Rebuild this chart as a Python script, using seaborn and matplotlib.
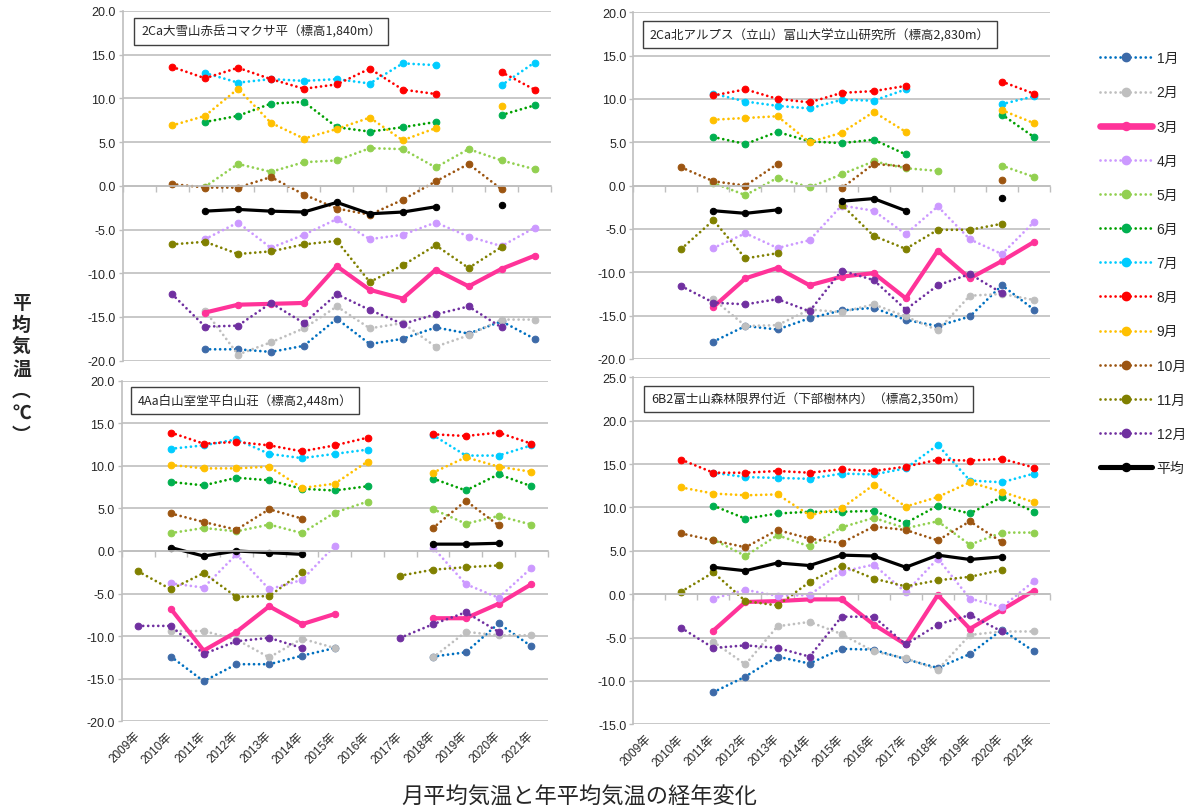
import matplotlib
matplotlib.use("Agg")
import numpy as np
import pandas as pd
import seaborn as sns
import matplotlib.pyplot as plt
from matplotlib.lines import Line2D
from matplotlib.ticker import FormatStrFormatter

N = None

# 年 (カテゴリ)
years = [2009, 2010, 2011, 2012, 2013, 2014, 2015, 2016, 2017, 2018, 2019, 2020, 2021]
year_labels = ["2009年", "2010年", "2011年", "2012年", "2013年", "2014年", "2015年",
               "2016年", "2017年", "2018年", "2019年", "2020年", "2021年"]
months = ["1月", "2月", "3月", "4月", "5月", "6月", "7月", "8月", "9月", "10月", "11月", "12月", "平均"]

# 1. 2Ca 大雪山赤岳コマクサ平
taisetsu = {
    "1月": [N, N, -18.7, -18.7, -19.0, -18.3, -15.2, -18.1, -17.5, -16.2, -16.9, -15.5, -17.5],
    "2月": [N, N, -14.3, -19.3, -17.9, -16.3, -13.8, -16.3, -15.7, -18.4, -17.1, -15.3, -15.3],
    "3月": [N, N, -14.5, -13.6, -13.5, -13.4, -9.2, -11.9, -12.9, -9.6, -11.5, -9.5, -8.0],
    "4月": [N, N, -6.1, -4.2, -7.1, -5.6, -3.8, -6.1, -5.6, -4.2, -5.8, -6.9, -4.8],
    "5月": [N, N, -0.1, 2.5, 1.6, 2.7, 2.9, 4.3, 4.2, 2.1, 4.2, 2.9, 1.9],
    "6月": [N, N, 7.3, 8.0, 9.4, 9.6, 6.7, 6.2, 6.7, 7.3, N, 8.1, 9.2],
    "7月": [N, N, 12.9, 11.8, 12.2, 12.0, 12.2, 11.7, 14.0, 13.8, N, 11.5, 14.1],
    "8月": [N, 13.6, 12.3, 13.5, 12.2, 11.1, 11.6, 13.4, 11.0, 10.5, N, 13.0, 11.0],
    "9月": [N, 6.9, 8.0, 11.1, 7.2, 5.4, 6.5, 7.8, 5.2, 6.6, N, 9.1, N],
    "10月": [N, 0.2, -0.2, -0.2, 1.0, -1.0, -2.6, -3.3, -1.6, 0.5, 2.5, -0.4, N],
    "11月": [N, -6.7, -6.4, -7.8, -7.5, -6.7, -6.3, -11.0, -9.1, -6.8, -9.4, -7.0, N],
    "12月": [N, -12.4, -16.1, -16.0, -13.4, -15.7, -12.4, -14.2, -15.8, -14.7, -13.8, -16.2, N],
    "平均": [N, N, -2.9, -2.7, -2.9, -3.0, -1.9, -3.2, -3.0, -2.4, N, -2.2, N],
}

# 2. 2Ca 北アルプス(立山)
tateyama = {
    "1月": [N, N, -18.0, -16.2, -16.6, -15.3, -14.4, -14.1, -15.5, -16.2, -15.1, -11.5, -14.3],
    "2月": [N, N, -13.1, -16.2, -16.1, -14.3, -14.6, -13.7, -15.1, -16.7, -12.7, -12.5, -13.2],
    "3月": [N, N, -14.0, -10.7, -9.5, -11.5, -10.5, -10.1, -13.0, -7.5, -10.7, -8.7, -6.5],
    "4月": [N, N, -7.2, -5.5, -7.2, -6.3, -2.3, -2.9, -5.6, -2.4, -6.2, -7.9, -4.2],
    "5月": [N, N, 0.3, -1.1, 0.9, -0.2, 1.3, 2.8, 2.0, 1.7, N, 2.3, 1.0],
    "6月": [N, N, 5.6, 4.8, 6.2, 5.1, 4.9, 5.3, 3.6, N, N, 8.2, 5.6],
    "7月": [N, N, 10.6, 9.7, 9.2, 8.9, 9.9, 9.8, 11.1, N, N, 9.4, 10.3],
    "8月": [N, N, 10.4, 11.1, 10.0, 9.6, 10.7, 10.9, 11.5, N, N, 12.0, 10.6],
    "9月": [N, N, 7.6, 7.8, 8.0, 5.0, 6.1, 8.5, 6.2, N, N, 8.7, 7.2],
    "10月": [N, 2.1, 0.5, 0.0, 2.5, N, -0.3, 2.5, 2.2, N, N, 0.7, N],
    "11月": [N, -7.3, -4.0, -8.4, -7.8, N, -2.2, -5.8, -7.3, -5.1, -5.1, -4.4, N],
    "12月": [N, -11.6, -13.5, -13.7, -13.1, -14.5, -9.8, -10.9, -14.3, -11.5, -10.2, -12.4, N],
    "平均": [N, N, -2.9, -3.2, -2.8, N, -1.8, -1.5, -2.9, N, N, -1.4, N],
}

# 3. 4Aa 白山室堂平白山荘
hakusan = {
    "1月": [N, -12.4, -15.3, -13.3, -13.3, -12.3, -11.4, N, N, -12.4, -11.9, -8.5, -11.2],
    "2月": [N, -9.4, -9.4, -10.4, -12.5, -10.3, -11.4, N, N, -12.5, -9.5, -9.9, -9.9],
    "3月": [N, -6.8, -11.7, -9.5, -6.5, -8.6, -7.4, N, N, -7.9, -7.9, -6.2, -3.9],
    "4月": [N, -3.8, -4.3, -0.4, -4.5, -3.4, 0.6, N, N, 0.4, -3.9, -5.5, -2.0],
    "5月": [N, 2.1, 2.7, 2.3, 3.1, 2.1, 4.5, 5.8, N, 4.9, 3.2, 4.1, 3.1],
    "6月": [N, 8.1, 7.7, 8.6, 8.3, 7.3, 7.1, 7.6, N, 8.5, 7.1, 9.0, 7.6],
    "7月": [N, 12.0, 12.4, 13.1, 11.4, 10.9, 11.4, 11.9, N, 13.6, 11.2, 11.2, 12.4],
    "8月": [N, 13.9, 12.6, 12.8, 12.4, 11.7, 12.4, 13.3, N, 13.7, 13.5, 13.9, 12.6],
    "9月": [N, 10.1, 9.7, 9.7, 9.9, 7.4, 7.9, 10.5, N, 9.2, 11.0, 9.9, 9.3],
    "10月": [N, 4.4, 3.4, 2.5, 4.9, 3.8, N, N, N, 2.7, 5.9, 3.0, N],
    "11月": [-2.4, -4.5, -2.6, -5.4, -5.3, -2.5, N, N, -2.9, -2.2, -1.9, -1.7, N],
    "12月": [-8.8, -8.8, -12.1, -10.6, -10.2, -11.4, N, N, -10.2, -8.6, -7.2, -9.5, N],
    "平均": [N, 0.4, -0.6, 0.0, -0.2, -0.4, N, N, N, 0.8, 0.8, 0.9, N],
}

# 4. 6B2 富士山森林限界付近
fuji = {
    "1月": [N, N, -11.3, -9.5, -7.2, -8.0, -6.3, -6.4, -7.5, -8.5, -6.9, -4.1, -6.6],
    "2月": [N, N, -5.5, -8.1, -3.7, -3.2, -4.6, -6.6, -7.4, -8.7, -4.7, -4.3, -4.3],
    "3月": [N, N, -4.2, -0.9, -0.8, -0.6, -0.6, -3.5, -5.8, -0.1, -4.0, -1.8, 0.4],
    "4月": [N, N, -0.5, 0.5, -0.2, -0.1, 2.6, 3.4, 0.2, 4.1, -0.5, -1.5, 1.5],
    "5月": [N, N, 6.3, 4.4, 6.8, 5.5, 7.7, 8.8, 7.6, 8.4, 5.7, 7.1, 7.1],
    "6月": [N, N, 10.2, 8.7, 9.3, 9.5, 9.5, 9.6, 8.2, 10.2, 9.3, 11.2, 9.5],
    "7月": [N, N, 14.0, 13.5, 13.4, 13.3, 13.9, 13.8, 14.5, 17.2, 13.1, 12.9, 13.9],
    "8月": [N, 15.5, 14.0, 14.0, 14.2, 14.0, 14.4, 14.2, 14.7, 15.5, 15.4, 15.6, 14.6],
    "9月": [N, 12.3, 11.6, 11.4, 11.5, 9.1, 9.9, 12.6, 10.1, 11.2, 12.9, 11.8, 10.6],
    "10月": [N, 7.0, 6.2, 5.4, 7.4, 6.4, 5.9, 7.8, 7.4, 6.2, 8.4, 6.0, N],
    "11月": [N, 0.3, 2.5, -0.8, -1.3, 1.4, 3.3, 1.8, 0.9, 1.6, 2.0, 2.8, N],
    "12月": [N, -3.9, -6.2, -5.9, -6.2, -7.2, -2.6, -2.6, -5.8, -3.5, -2.4, -4.3, N],
    "平均": [N, N, 3.1, 2.7, 3.6, 3.3, 4.5, 4.4, 3.1, 4.5, 4.0, 4.3, N],
}

# 色 (線, マーカー)
line_colors = {"1月": "#0070C0", "2月": "#BFBFBF", "3月": "#FF3399", "4月": "#CC99FF",
               "5月": "#92D050", "6月": "#00A000", "7月": "#00CCFF", "8月": "#FF0000",
               "9月": "#FFC000", "10月": "#9C5511", "11月": "#808000", "12月": "#7030A0",
               "平均": "#000000"}
marker_colors = {"1月": "#3D6AA8", "2月": "#BFBFBF", "3月": "#FF3399", "4月": "#CC99FF",
                 "5月": "#92D050", "6月": "#00B050", "7月": "#00CCFF", "8月": "#FF0000",
                 "9月": "#FFC000", "10月": "#9C5511", "11月": "#808000", "12月": "#7030A0",
                 "平均": "#000000"}

DOT = (0, (0.01, 1.8))


def line_style(m):
    if m == "3月":
        return dict(lw=3.0, linestyle="-", ms=4.6)
    if m == "平均":
        return dict(lw=2.3, linestyle="-", ms=4.6)
    return dict(lw=2.0, linestyle=DOT, ms=4.8)


def to_long(series):
    # 欠測で線を切るため、連続区間ごとに seg 番号を付ける
    rows = []
    for m, vals in series.items():
        seg = 0
        prev = False
        for y, v in zip(years, vals):
            if v is None:
                prev = False
                continue
            if not prev:
                seg += 1
            rows.append({"month": m, "year": y, "temp": v, "seg": seg})
            prev = True
    return pd.DataFrame(rows)


sns.set_style("white")
plt.rcParams["font.family"] = ["Liberation Sans", "Noto Sans CJK JP"]
GRID = "#BFBFBF"

fig = plt.figure(figsize=(11.89, 8.12), dpi=100)

panels = [
    (taisetsu, [0.1032, 0.5546, 0.3602, 0.4307], 2021.35, (-20, 20), False,
     "2Ca大雪山赤岳コマクサ平（標高1,840m）", (0.043, 0.941)),
    (tateyama, [0.5326, 0.5567, 0.3505, 0.4270], 2021.5, (-20, 20), False,
     "2Ca北アルプス（立山）富山大学立山研究所（標高2,830m）", (0.040, 0.935)),
    (hakusan, [0.1024, 0.1105, 0.3583, 0.4195], 2021.5, (-20, 20), True,
     "4Aa白山室堂平白山荘（標高2,448m）", (0.037, 0.942)),
    (fuji, [0.5326, 0.1068, 0.3505, 0.4273], 2021.5, (-15, 25), True,
     "6B2富士山森林限界付近（下部樹林内）（標高2,350m）", (0.0425, 0.9375)),
]

for series, rect, xr, (ylo, yhi), show_x, title, tpos in panels:
    ax = fig.add_axes(rect)
    df = to_long(series)
    for m in months:
        sub = df[df["month"] == m]
        st = line_style(m)
        sns.lineplot(data=sub, x="year", y="temp", units="seg", estimator=None, ax=ax,
                     color=line_colors[m], lw=st["lw"], linestyle=st["linestyle"],
                     dash_capstyle="round", marker="o", ms=st["ms"],
                     mfc=marker_colors[m], mec=marker_colors[m], legend=False)

    ax.set_xlim(2008.5, xr)
    ax.set_ylim(ylo, yhi)
    ax.set_yticks(list(range(ylo, yhi + 1, 5)))
    ax.yaxis.set_major_formatter(FormatStrFormatter("%.1f"))
    ax.set_xlabel("")
    ax.set_ylabel("")
    ax.grid(axis="y", color=GRID, lw=1.2)
    ax.grid(axis="x", visible=False)
    ax.set_axisbelow(True)

    for s in ["top", "right"]:
        ax.spines[s].set_visible(False)
    ax.spines["left"].set_color(GRID)
    ax.spines["left"].set_linewidth(1.2)
    ax.spines["bottom"].set_position(("data", 0))
    ax.spines["bottom"].set_color(GRID)
    ax.spines["bottom"].set_linewidth(1.2)

    ax.set_xticks([2008.5 + i for i in range(14)])
    ax.tick_params(axis="x", direction="out", length=4, color=GRID, width=1.0,
                   labelbottom=False, bottom=True)
    ax.tick_params(axis="y", direction="out", length=3, color=GRID, width=1.0,
                   labelsize=9, pad=2, left=True)

    if show_x:
        sec = ax.secondary_xaxis("bottom")
        sec.set_xticks(years, labels=year_labels, rotation=45, ha="right",
                       va="center", rotation_mode="anchor", fontsize=8.5)
        sec.tick_params(length=0, pad=9)
        sec.spines["bottom"].set_visible(False)

    ax.text(tpos[0], tpos[1], title, transform=ax.transAxes, fontsize=9,
            family=["Noto Sans CJK JP"], va="center", ha="left",
            bbox=dict(boxstyle="square,pad=0.55", fc="white", ec="#404040", lw=1.0))

# 凡例
handles = []
for m in months:
    st = line_style(m)
    lw = st["lw"] * 1.6 if m in ("3月", "平均") else st["lw"]
    handles.append(Line2D([], [], color=line_colors[m], lw=lw, linestyle=st["linestyle"],
                          dash_capstyle="round", marker="o", ms=st["ms"] + 1.2,
                          mfc=marker_colors[m], mec=marker_colors[m]))
fig.legend(handles, months, loc="upper left", bbox_to_anchor=(0.915, 0.951),
           frameon=False, handlelength=3.7, handletextpad=0.35,
           labelspacing=1.45, numpoints=1,
           prop={"family": ["Liberation Sans", "Noto Sans CJK JP"], "size": 10})

# 縦軸ラベル
fig.text(0.018, 0.545, "\n".join(["平", "均", "気", "温", "︵", "℃", "︶"]), ha="center",
         va="center", fontsize=13.5, fontweight="bold", linespacing=1.2,
         family=["Noto Sans CJK JP", "DejaVu Sans"])

# タイトル
fig.text(0.487, 1 - 797 / 812, "月平均気温と年平均気温の経年変化", ha="center", va="center",
         fontsize=16, family=["Noto Sans CJK JP"])

fig.savefig("out.png", dpi=100)
